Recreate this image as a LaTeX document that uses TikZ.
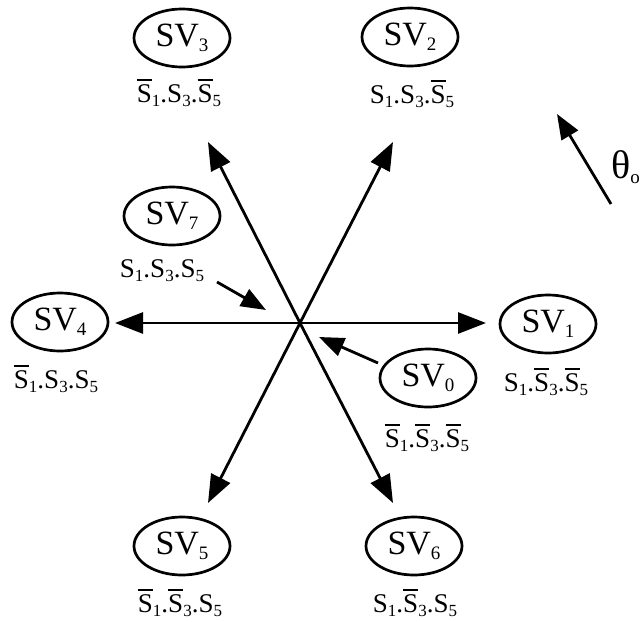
\documentclass[tikz,border=0pt]{standalone}
\usepackage{fontspec}
\setmainfont{Liberation Serif}
\usetikzlibrary{shapes.geometric,arrows.meta}
\newcommand\svsub[1]{\raisebox{-5pt}{\fontsize{19}{19}\selectfont #1}}
\newcommand\lbsub[1]{\raisebox{-4pt}{\fontsize{17}{17}\selectfont #1}}
\newcommand\barS{\leavevmode\vbox{\hrule height 2.4pt\kern 3pt\hbox{S}}}
\tikzset{
  sv/.style={draw, ellipse, line width=2.7pt, minimum width=96pt, minimum height=58pt,
    inner sep=0pt, font=\fontsize{34}{34}\selectfont},
  lab/.style={inner sep=0pt, anchor=base, font=\fontsize{27}{27}\selectfont},
  vec/.style={line width=2.8pt, -{Triangle[length=28pt,width=21pt]}},
  ptr/.style={line width=2.8pt, -{Triangle[length=25pt,width=19pt]}}
}
\begin{document}
\begin{tikzpicture}[x=1pt,y=-1pt]
\useasboundingbox (0,0) rectangle (641,622);
% ellipses
\node[sv] (sv3) at (182,38) {SV\svsub{3}};
\node[sv] (sv2) at (410,37) {SV\svsub{2}};
\node[sv] (sv7) at (172,216) {SV\svsub{7}};
\node[sv] (sv4) at (60,322) {SV\svsub{4}};
\node[sv] (sv1) at (548,324) {SV\svsub{1}};
\node[sv] (sv0) at (428,378) {SV\svsub{0}};
\node[sv] (sv5) at (182,546) {SV\svsub{5}};
\node[sv] (sv6) at (414,546) {SV\svsub{6}};
% labels
\node[lab] (l3) at (179,102) {\barS\lbsub{1}.S\lbsub{3}.\barS\lbsub{5}};
\node[lab] (l2) at (412,103) {S\lbsub{1}.S\lbsub{3}.\barS\lbsub{5}};
\node[lab] (l7) at (162,277) {S\lbsub{1}.S\lbsub{3}.S\lbsub{5}};
\node[lab] (l4) at (56,388) {\barS\lbsub{1}.S\lbsub{3}.S\lbsub{5}};
\node[lab] (l1) at (546,391) {S\lbsub{1}.\barS\lbsub{3}.\barS\lbsub{5}};
\node[lab] (l0) at (427,447) {\barS\lbsub{1}.\barS\lbsub{3}.\barS\lbsub{5}};
\node[lab] (l5) at (180,612) {\barS\lbsub{1}.\barS\lbsub{3}.S\lbsub{5}};
\node[lab] (l6) at (415,612) {S\lbsub{1}.\barS\lbsub{3}.S\lbsub{5}};
% vector star
\coordinate (O) at (300,323);
\coordinate (t1) at (486,323);
\coordinate (t4) at (115,323);
\coordinate (t2) at (393,142);
\coordinate (t3) at (208,142);
\coordinate (t5) at (208,503);
\coordinate (t6) at (393,503);
\draw[vec] (O) -- (t1);
\draw[vec] (O) -- (t4);
\draw[vec] (O) -- (t2);
\draw[vec] (O) -- (t3);
\draw[vec] (O) -- (t5);
\draw[vec] (O) -- (t6);
% pointers for zero vectors
\coordinate (p0s) at (378,363);
\coordinate (p0e) at (319,337);
\draw[ptr] (p0s) -- (p0e);
\coordinate (p7s) at (217,282);
\coordinate (p7e) at (266,310);
\draw[ptr] (p7s) -- (p7e);
% theta arrow
\coordinate (ths) at (611,204);
\coordinate (the) at (557,114);
\draw[ptr] (ths) -- (the);
\node[anchor=base west, inner sep=0pt, font=\fontsize{40}{40}\selectfont] (theta) at (611,178) {θ\svsub{o}};
\end{tikzpicture}
\end{document}
